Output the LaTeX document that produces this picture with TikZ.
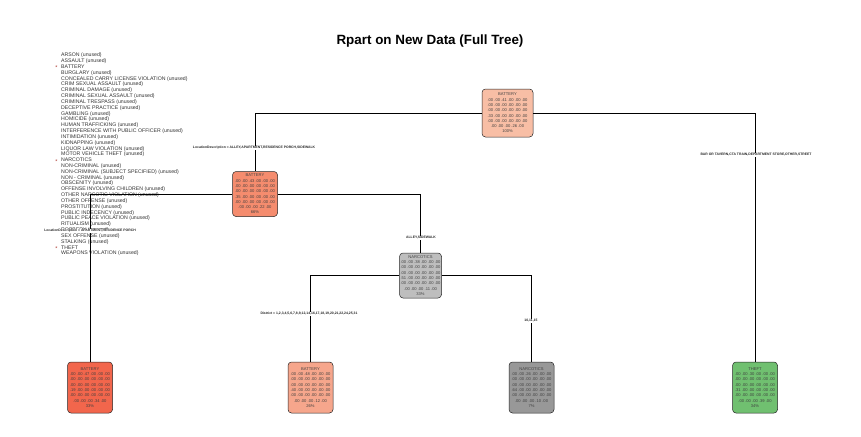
\documentclass[tikz,border=0pt]{standalone}
\usepackage{fontspec}
\setmainfont{Liberation Sans}
\definecolor{cRoot}{RGB}{248,190,165}
\definecolor{cMidL}{RGB}{245,140,110}
\definecolor{cLeafL}{RGB}{242,102,76}
\definecolor{cLeafB}{RGB}{246,166,140}
\definecolor{cNarcM}{RGB}{190,190,190}
\definecolor{cNarcL}{RGB}{152,152,152}
\definecolor{cTheft}{RGB}{112,192,112}
\definecolor{cStar}{RGB}{170,50,40}
\newcommand{\rpboxtext}[5]{#1\\.00 .00 #2 .00 .00 .00\\.00 .00 .00 .00 .00 .00\\.00 .00 .00 .00 .00 .00\\#3 .00 .00 .00 .00 .00\\.00 .00 .00 .00 .00 .00\\.00 .00 .00 #4 .00\\#5}
\tikzset{
  treebox/.style={draw=black!85, line width=0.5pt, rounded corners=3.5pt, align=center,
    inner sep=0.5pt, font=\fontsize{4.1}{5.3}\selectfont, text=black!75},
  leafbox/.style={treebox, minimum width=45pt, minimum height=51pt},
  edge/.style={draw=black, line width=0.9pt},
  slabel/.style={fill=white, inner sep=0.6pt, font=\fontsize{3.4}{4}\selectfont\bfseries, text=black!85},
  legtext/.style={anchor=base west, inner sep=0pt, font=\fontsize{5.2}{6}\selectfont, text=black!80},
  legstar/.style={anchor=base, inner sep=0pt, font=\fontsize{5.5}{6}\selectfont, text=cStar},
  titletext/.style={font=\fontsize{13.4}{16}\selectfont\bfseries}
}
\begin{document}
\begin{tikzpicture}[x=1pt,y=-1pt]
\useasboundingbox (0,0) rectangle (861,436);
\fill[white] (0,0) rectangle (861,436);

\node[titletext] (title) at (430,41) {Rpart on New Data (Full Tree)};

% legend
\foreach \t [count=\i] in {ARSON (unused),ASSAULT (unused),BATTERY,BURGLARY (unused),CONCEALED CARRY LICENSE VIOLATION (unused),CRIM SEXUAL ASSAULT (unused),CRIMINAL DAMAGE (unused),CRIMINAL SEXUAL ASSAULT (unused),CRIMINAL TRESPASS (unused),DECEPTIVE PRACTICE (unused),GAMBLING (unused),HOMICIDE (unused),HUMAN TRAFFICKING (unused),INTERFERENCE WITH PUBLIC OFFICER (unused),INTIMIDATION (unused),KIDNAPPING (unused),LIQUOR LAW VIOLATION (unused),MOTOR VEHICLE THEFT (unused),NARCOTICS,NON-CRIMINAL (unused),NON-CRIMINAL (SUBJECT SPECIFIED) (unused),NON - CRIMINAL (unused),OBSCENITY (unused),OFFENSE INVOLVING CHILDREN (unused),OTHER NARCOTIC VIOLATION (unused),OTHER OFFENSE (unused),PROSTITUTION (unused),PUBLIC INDECENCY (unused),PUBLIC PEACE VIOLATION (unused),RITUALISM (unused),ROBBERY (unused),SEX OFFENSE (unused),STALKING (unused),THEFT,WEAPONS VIOLATION (unused)}
  \node[legtext] (leg\i) at (61,{55+(\i-1)*5.824+1.85}) {\t};
\node[legstar] (star3) at (56.5,{55+2*5.824+3.2}) {*};
\node[legstar] (star19) at (56.5,{55+18*5.824+3.2}) {*};
\node[legstar] (star34) at (56.5,{55+33*5.824+3.2}) {*};

% nodes
\node[treebox, fill=cRoot, minimum width=51pt, minimum height=48pt] (root) at (507.5,113) {\rpboxtext{BATTERY}{.41}{.33}{.26}{100\%}};
\node[treebox, fill=cMidL, minimum width=45pt, minimum height=45pt] (midL) at (255,194) {\rpboxtext{BATTERY}{.43}{.35}{.22}{66\%}};
\node[treebox, fill=cNarcM, minimum width=42pt, minimum height=45pt] (narcM) at (420.5,275.5) {\rpboxtext{NARCOTICS}{.38}{.51}{.11}{33\%}};
\node[leafbox, fill=cLeafL] (leafL) at (90,387.5) {\rpboxtext{BATTERY}{.47}{.19}{.34}{33\%}};
\node[leafbox, fill=cLeafB] (leafB) at (310.5,387.5) {\rpboxtext{BATTERY}{.48}{.40}{.12}{26\%}};
\node[leafbox, fill=cNarcL] (leafN) at (531.5,387.5) {\rpboxtext{NARCOTICS}{.26}{.64}{.10}{7\%}};
\node[leafbox, fill=cTheft] (leafT) at (755,387.5) {\rpboxtext{THEFT}{.30}{.31}{.39}{34\%}};

% edges
\draw[edge] (root.west) -| (midL.north);
\draw[edge] (root.east) -| (leafT.north);
\draw[edge] (midL.west) -| (leafL.north);
\draw[edge] (midL.east) -| (narcM.north);
\draw[edge] (narcM.west) -| (leafB.north);
\draw[edge] (narcM.east) -| (leafN.north);

% split labels
\node[slabel] (s1l) at (254,148) {LocationDescription = ALLEY,APARTMENT,RESIDENCE PORCH,SIDEWALK};
\node[slabel] (s1r) at (756,155) {BAR OR TAVERN,CTA TRAIN,DEPARTMENT STORE,OTHER,STREET};
\node[slabel] (s2l) at (90,231) {LocationDescription = APARTMENT,RESIDENCE PORCH};
\node[slabel] (s2r) at (421,238) {ALLEY,SIDEWALK};
\node[slabel] (s3l) at (309,314) {District = 1,2,3,4,5,6,7,8,9,12,14,16,17,18,19,20,21,22,24,25,31};
\node[slabel] (s3r) at (531,321) {10,11,15};
\end{tikzpicture}
\end{document}
